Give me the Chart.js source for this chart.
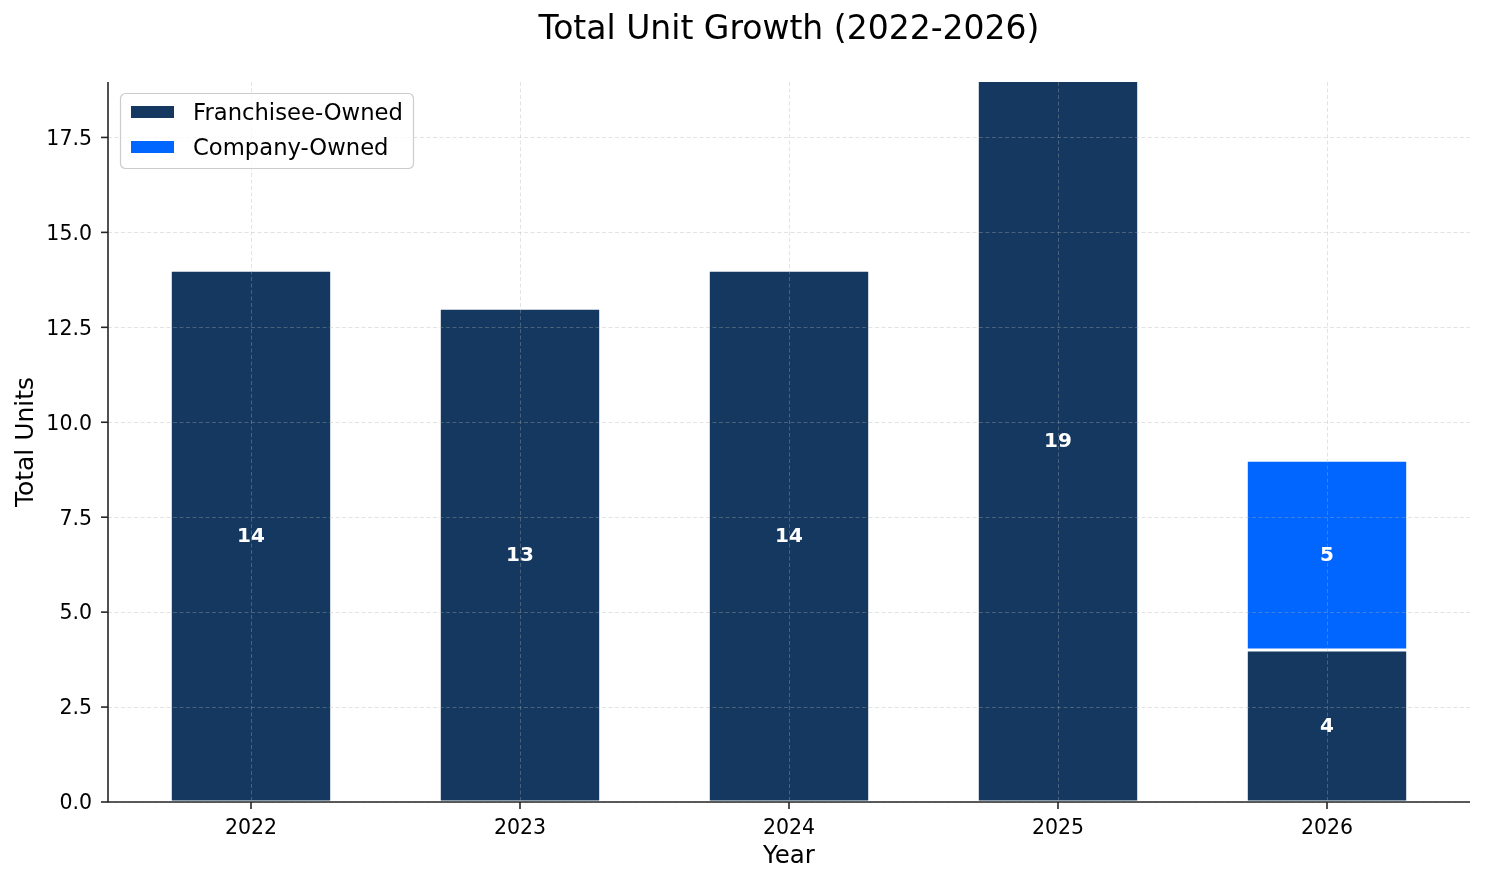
<!DOCTYPE html>
<html>
<head>
<meta charset="utf-8">
<script src="https://cdn.jsdelivr.net/npm/chart.js@4.4.1/dist/chart.umd.min.js"></script>
<style>
  html, body { margin: 0; padding: 0; background: #ffffff; }
  #wrap { width: 1485px; height: 884px; position: relative; }
</style>
</head>
<body>
<div id="wrap"><canvas id="c"></canvas></div>
<script>
// ---- Data ----
const years = ['2022', '2023', '2024', '2025', '2026'];
const franchiseeOwned = [14, 13, 14, 19, 4];
const companyOwned = [null, null, null, null, 5];
const yTickValues = [0, 2.5, 5, 7.5, 10, 12.5, 15, 17.5];
const chartTitle = 'Total Unit Growth (2022-2026)';
const xTitle = 'Year';
const yTitle = 'Total Units';
const seriesNames = ['Franchisee-Owned', 'Company-Owned'];

const NAVY = '#14385f';
const BLUE = '#0066ff';
const FONT = '"DejaVu Sans", sans-serif';
const INK = '#262626';

const overlay = {
  id: 'overlay',
  afterDatasetsDraw(chart) {
    const ctx = chart.ctx;
    const xs = chart.scales.x, ys = chart.scales.y;
    const a = chart.chartArea;
    ctx.save();
    // grid (on top of bars, like the reference)
    ctx.strokeStyle = 'rgba(176,176,176,0.35)';
    ctx.lineWidth = 1;
    ctx.setLineDash([4, 2.5]);
    yTickValues.forEach(v => {
      const y = Math.round(ys.getPixelForValue(v)) + 0.5;
      ctx.beginPath(); ctx.moveTo(a.left, y); ctx.lineTo(a.right, y); ctx.stroke();
    });
    years.forEach((_, i) => {
      const x = Math.round(xs.getPixelForValue(i)) + 0.5;
      ctx.beginPath(); ctx.moveTo(x, a.top); ctx.lineTo(x, a.bottom); ctx.stroke();
    });
    ctx.setLineDash([]);
    // value labels
    ctx.fillStyle = '#ffffff';
    ctx.font = 'bold 20px ' + FONT;
    ctx.textAlign = 'center';
    ctx.textBaseline = 'middle';
    years.forEach((_, i) => {
      const f = franchiseeOwned[i] || 0;
      const c = companyOwned[i] || 0;
      const x = xs.getPixelForValue(i);
      if (f > 0) ctx.fillText(String(f), x, ys.getPixelForValue(f / 2) + 1);
      if (c > 0) ctx.fillText(String(c), x, ys.getPixelForValue(f + c / 2) + 1);
    });
    // spines
    ctx.strokeStyle = INK;
    ctx.lineWidth = 1.6;
    ctx.beginPath();
    ctx.moveTo(a.left, a.top); ctx.lineTo(a.left, a.bottom); ctx.lineTo(a.right, a.bottom);
    ctx.stroke();
    // tick marks
    ctx.lineWidth = 1.6;
    yTickValues.forEach(v => {
      const y = ys.getPixelForValue(v);
      ctx.beginPath(); ctx.moveTo(a.left - 7, y); ctx.lineTo(a.left, y); ctx.stroke();
    });
    years.forEach((_, i) => {
      const x = xs.getPixelForValue(i);
      ctx.beginPath(); ctx.moveTo(x, a.bottom); ctx.lineTo(x, a.bottom + 7); ctx.stroke();
    });
    // titles
    ctx.fillStyle = '#000000';
    ctx.textAlign = 'center';
    ctx.textBaseline = 'middle';
    ctx.font = '33px ' + FONT;
    ctx.fillText(chartTitle, (a.left + a.right) / 2, 30);
    ctx.font = '24.5px ' + FONT;
    ctx.fillText(xTitle, (a.left + a.right) / 2, 857);
    ctx.save();
    ctx.translate(26, (a.top + a.bottom) / 2);
    ctx.rotate(-Math.PI / 2);
    ctx.font = '25px ' + FONT;
    ctx.fillText(yTitle, 0, 0);
    ctx.restore();
    // legend
    const lx = 120, ly = 93, lw = 293, lh = 75, r = 5;
    ctx.fillStyle = 'rgba(255,255,255,0.8)';
    ctx.strokeStyle = '#cccccc';
    ctx.lineWidth = 1.2;
    ctx.beginPath();
    ctx.roundRect(lx + 0.5, ly + 0.5, lw, lh, r);
    ctx.fill(); ctx.stroke();
    const colors = [NAVY, BLUE];
    ctx.font = '22.7px ' + FONT;
    ctx.textAlign = 'left';
    ctx.textBaseline = 'middle';
    seriesNames.forEach((name, k) => {
      const cy = 112 + k * 35;
      ctx.fillStyle = colors[k];
      ctx.fillRect(131, cy - 6, 43, 12);
      ctx.fillStyle = '#000000';
      ctx.fillText(name, 193, cy + 2);
    });
    ctx.restore();
  }
};

new Chart(document.getElementById('c'), {
  type: 'bar',
  data: {
    datasets: [
      {
        label: seriesNames[0],
        data: franchiseeOwned.map((v, i) => ({ x: i, y: v })),
        backgroundColor: NAVY,
        borderColor: '#ffffff',
        borderWidth: 1.5,
        borderSkipped: false,
        barPercentage: 0.6,
        categoryPercentage: 1.0
      },
      {
        label: seriesNames[1],
        data: companyOwned.map((v, i) => ({ x: i, y: v })),
        backgroundColor: BLUE,
        borderColor: '#ffffff',
        borderWidth: 1.5,
        borderSkipped: false,
        barPercentage: 0.6,
        categoryPercentage: 1.0
      }
    ]
  },
  options: {
    responsive: true,
    maintainAspectRatio: false,
    animation: false,
    layout: { padding: { top: 82, right: 15, left: 0, bottom: 0 } },
    plugins: { legend: { display: false }, title: { display: false }, tooltip: { enabled: false } },
    scales: {
      x: {
        type: 'linear',
        stacked: true,
        min: -0.5316,
        max: 4.5316,
        offset: false,
        grid: { display: false, drawTicks: false },
        border: { display: false },
        afterBuildTicks: s => { s.ticks = years.map((_, i) => ({ value: i })); },
        afterFit: s => { s.height = 82; },
        ticks: {
          padding: 14,
          color: '#000000',
          font: { family: FONT, size: 20.5 },
          callback: (v) => years[v] !== undefined ? years[v] : ''
        }
      },
      y: {
        stacked: true,
        min: 0,
        max: 18.96,
        grid: { display: false, drawTicks: false },
        border: { display: false },
        afterBuildTicks: s => { s.ticks = yTickValues.map(v => ({ value: v })); },
        afterFit: s => { s.width = 108; },
        ticks: {
          padding: 16,
          labelOffset: 2,
          color: '#000000',
          font: { family: FONT, size: 20.5 },
          callback: v => Number(v).toFixed(1)
        }
      }
    }
  },
  plugins: [overlay]
});
</script>
</body>
</html>
